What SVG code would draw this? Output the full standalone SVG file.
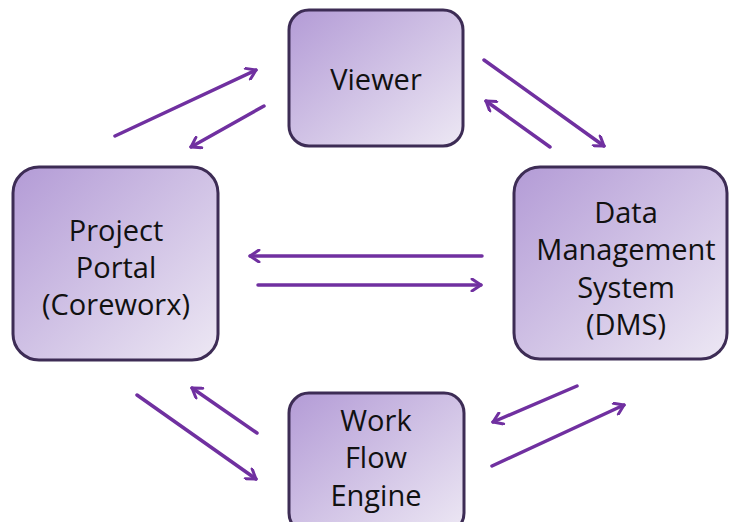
<svg xmlns="http://www.w3.org/2000/svg" width="729" height="522" viewBox="0 0 729 522">
<defs>
<linearGradient id="g" x1="0" y1="0" x2="1" y2="1">
<stop offset="0" stop-color="#B39BD6"/>
<stop offset="1" stop-color="#EDE8F4"/>
</linearGradient>
<marker id="ah" viewBox="0 0 14 14" refX="11" refY="7" markerWidth="14" markerHeight="14" markerUnits="userSpaceOnUse" orient="auto">
<path d="M2,1 L11,7 L2,13" fill="none" stroke="#7030A0" stroke-width="3" stroke-linecap="round" stroke-linejoin="round"/>
</marker>
</defs>
<style>
.box{fill:url(#g);stroke:#3D2C55;stroke-width:3}
.t{font-family:"Open Sans","Noto Sans",sans-serif;font-size:29px;fill:#111;text-anchor:middle}
.c line{stroke:#7030A0;stroke-width:3.5;stroke-linecap:round;marker-end:url(#ah)}
</style>
<rect width="729" height="522" fill="#fff"/>
<g id="viewer">
<rect class="box" x="289" y="10" width="174" height="136" rx="20"/>
<text class="t" x="376" y="90">Viewer</text>
</g>
<g id="portal">
<rect class="box" x="13" y="167" width="205" height="193" rx="26"/>
<text class="t" x="116" y="241">Project</text>
<text class="t" x="116" y="278">Portal</text>
<text class="t" x="116" y="315">(Coreworx)</text>
</g>
<g id="dms">
<rect class="box" x="514" y="167" width="213" height="192" rx="26"/>
<text class="t" x="626" y="223">Data</text>
<text class="t" x="626" y="260">Management</text>
<text class="t" x="626" y="298">System</text>
<text class="t" x="626" y="335">(DMS)</text>
</g>
<g id="workflow">
<rect class="box" x="289" y="393" width="175" height="140" rx="20"/>
<text class="t" x="376" y="431">Work</text>
<text class="t" x="376" y="468">Flow</text>
<text class="t" x="376" y="506">Engine</text>
</g>
<g class="c" id="connectors">
<line x1="115" y1="136" x2="256" y2="70"/>
<line x1="264" y1="106" x2="191" y2="147"/>
<line x1="484" y1="60" x2="604" y2="146"/>
<line x1="550" y1="147" x2="486" y2="101"/>
<line x1="482" y1="256" x2="250" y2="256"/>
<line x1="258" y1="285" x2="481" y2="285"/>
<line x1="257" y1="433" x2="192" y2="388"/>
<line x1="137" y1="395" x2="256" y2="479"/>
<line x1="577" y1="386" x2="493" y2="422"/>
<line x1="492" y1="466" x2="624" y2="405"/>
</g>
</svg>
